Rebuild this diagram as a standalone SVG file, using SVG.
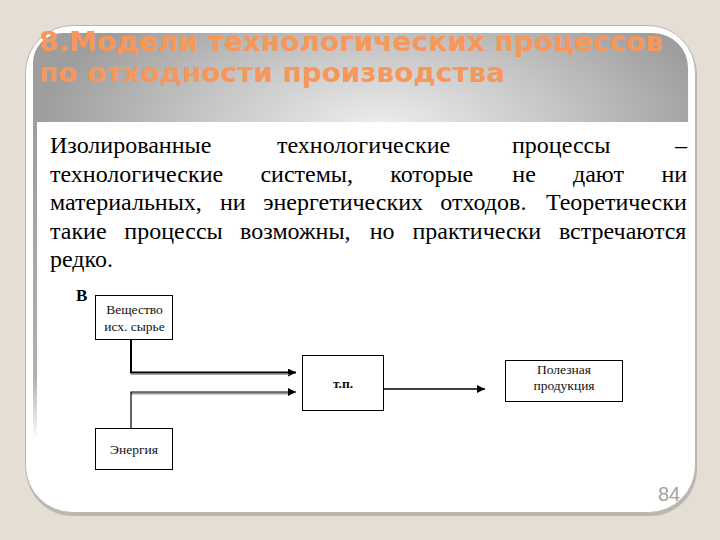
<svg xmlns="http://www.w3.org/2000/svg" width="720" height="540" viewBox="0 0 720 540">
<defs>
<radialGradient id="hdr" gradientUnits="userSpaceOnUse" cx="380" cy="128" r="340" gradientTransform="translate(0,128) scale(1,0.45) translate(0,-128)">
<stop offset="0" stop-color="#EEEEEE"/>
<stop offset="0.55" stop-color="#C4C4C4"/>
<stop offset="1" stop-color="#9E9E9E"/>
</radialGradient>
<linearGradient id="bar" x1="0" y1="0" x2="0" y2="1">
<stop offset="0" stop-color="#9E9E9E"/>
<stop offset="0.8" stop-color="#B0B0B0"/>
<stop offset="1" stop-color="#FFFFFF"/>
</linearGradient>
<marker id="ah" markerUnits="userSpaceOnUse" markerWidth="9" markerHeight="8" refX="8" refY="4" orient="auto">
<path d="M0,0 L8,4 L0,8 Z" fill="#000"/>
</marker>
<style>
.ttl{font-family:"DejaVu Sans",Verdana,sans-serif;font-weight:bold;font-size:26px;fill:#F7975A}
.bodytxt{font-family:"Liberation Serif","Times New Roman",serif;font-size:24px;fill:#000}
.bx{fill:#fff;stroke:#000;stroke-width:1}
.bt{font-family:"Liberation Serif","Times New Roman",serif;font-size:13.5px;fill:#111;text-anchor:middle}
.ln{fill:none;stroke:#000}
</style>
</defs>
<rect x="0" y="0" width="720" height="540" fill="#E4DED4"/>
<rect x="26" y="28" width="671" height="488" rx="47" fill="#BCB7AE"/>
<rect x="25.5" y="25.5" width="670" height="487" rx="47" fill="#FFFFFF" stroke="#BAB6AE" stroke-width="1"/>
<path d="M33,63 A30,30 0 0 1 63,33 L653,33 A35,35 0 0 1 688,68 L688,122 L33,122 Z" fill="url(#hdr)"/>
<rect x="33" y="122" width="4" height="318" fill="url(#bar)"/>
<g id="title">
<text class="ttl" x="39" y="51" textLength="624" lengthAdjust="spacingAndGlyphs">8.Модели технологических процессов</text>
<text class="ttl" x="39" y="82" textLength="466" lengthAdjust="spacingAndGlyphs">по отходности производства</text>
</g>
<g id="body-text">
<text class="bodytxt" font-family="Liberation Serif, serif" y="153"><tspan x="50">Изолированные</tspan><tspan x="277">технологические</tspan><tspan x="512">процессы</tspan><tspan x="675">–</tspan></text>
<text class="bodytxt" font-family="Liberation Serif, serif" y="181.5"><tspan x="50">технологические</tspan><tspan x="260.4">системы,</tspan><tspan x="390.2">которые</tspan><tspan x="512.3">не</tspan><tspan x="573">дают</tspan><tspan x="661.5">ни</tspan></text>
<text class="bodytxt" font-family="Liberation Serif, serif" y="210"><tspan x="50">материальных,</tspan><tspan x="220">ни</tspan><tspan x="263.2">энергетических</tspan><tspan x="440.3">отходов.</tspan><tspan x="545.9">Теоретически</tspan></text>
<text class="bodytxt" font-family="Liberation Serif, serif" y="238.5"><tspan x="50">такие</tspan><tspan x="124.3">процессы</tspan><tspan x="240.1">возможны,</tspan><tspan x="369.7">но</tspan><tspan x="412.5">практически</tspan><tspan x="558.9">встречаются</tspan></text>
<text class="bodytxt" font-family="Liberation Serif, serif" y="267"><tspan x="50">редко.</tspan></text>
</g>
<text x="76" y="301" font-family="Liberation Serif, serif" font-weight="bold" font-size="17" fill="#000">В</text>
<g id="connectors">
<path class="ln" d="M131,339 V372.5 H296" stroke-width="2" marker-end="url(#ah)"/>
<line x1="131" y1="374.5" x2="289" y2="374.5" stroke="#A0A0A0" stroke-width="1"/>
<line x1="131" y1="393.5" x2="289" y2="393.5" stroke="#9C9C9C" stroke-width="2"/>
<path class="ln" d="M131,428 V392 H296" stroke-width="1.2" marker-end="url(#ah)"/>
<path class="ln" d="M383,389 H485" stroke-width="1.3" marker-end="url(#ah)"/>
</g>
<g id="node-substance">
<rect class="bx" x="95.5" y="295.5" width="77" height="44"/>
<line x1="96" y1="339.5" x2="173" y2="339.5" stroke="#000" stroke-width="1"/>
<text class="bt" x="134.5" y="313.5">Вещество</text>
<text class="bt" x="134.5" y="331">исх. сырье</text>
</g>
<g id="node-tp">
<rect class="bx" x="302.5" y="355.5" width="81" height="55"/>
<text class="bt" x="343" y="388" font-weight="bold" font-size="15">т.п.</text>
</g>
<g id="node-product">
<rect class="bx" x="505.5" y="360.5" width="117" height="41"/>
<text class="bt" x="564" y="373.5" font-size="13">Полезная</text>
<text class="bt" x="564" y="390" font-size="13">продукция</text>
</g>
<g id="node-energy">
<rect class="bx" x="95.5" y="428.5" width="77" height="41"/>
<text class="bt" x="134" y="453.5">Энергия</text>
</g>
<text x="658" y="501" font-family="Liberation Sans, Arial, sans-serif" font-size="20" fill="#A8A39A">84</text>
</svg>
